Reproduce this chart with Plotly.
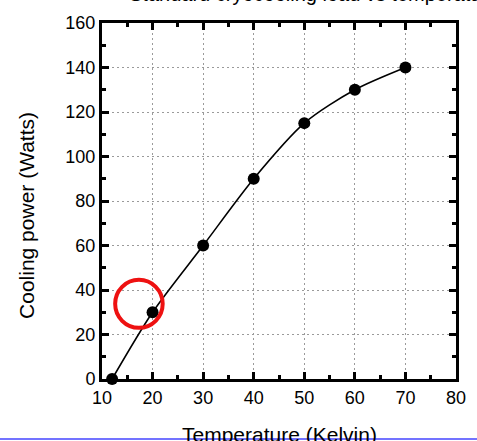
import plotly.graph_objects as go

# Cryocooler cooling power measured at several cold-stage temperatures
temperature_k = [12, 20, 30, 40, 50, 60, 70]
cooling_power_w = [0, 30, 60, 90, 115, 130, 140]

x_ticks = [10, 20, 30, 40, 50, 60, 70, 80]
y_ticks = [0, 20, 40, 60, 80, 100, 120, 140, 160]

FONT = "Arial, Liberation Sans, sans-serif"

fig = go.Figure()
fig.add_trace(go.Scatter(
    x=temperature_k,
    y=cooling_power_w,
    mode="lines+markers",
    line=dict(color="black", width=1.6, shape="spline", smoothing=0.8),
    marker=dict(color="black", size=12),
    cliponaxis=False,
    showlegend=False,
))

axis_common = dict(
    showline=True, linecolor="black", linewidth=3, mirror="allticks",
    ticks="inside", ticklen=7, tickwidth=3, tickcolor="black",
    showgrid=True, gridcolor="#9a9a9a", gridwidth=1, griddash="2px,3px",
    zeroline=False,
    tickfont=dict(family=FONT, size=18, color="black"),
    minor=dict(ticks="inside", ticklen=4, tickwidth=3, tickcolor="black", showgrid=False),
)

fig.update_xaxes(range=[10, 80], tickvals=x_ticks, ticktext=[str(v) for v in x_ticks],
                 minor_dtick=5, **axis_common)
fig.update_yaxes(range=[0, 160], tickvals=y_ticks, ticktext=[str(v) for v in y_ticks],
                 minor_dtick=10, **axis_common)

# Highlight ring around the 20 K operating point
ring_x, ring_y, ring_rx, ring_ry = 17.3, 33.8, 4.7, 10.8
fig.add_shape(type="circle", xref="x", yref="y",
              x0=ring_x - ring_rx, x1=ring_x + ring_rx,
              y0=ring_y - ring_ry, y1=ring_y + ring_ry,
              line=dict(color="#ee1111", width=4))

# Rule under the figure
fig.add_shape(type="line", xref="paper", yref="paper",
              x0=-0.4, x1=1.2, y0=-0.1685, y1=-0.1685,
              line=dict(color="#7373ff", width=2))

fig.add_annotation(text="Temperature (Kelvin)", xref="paper", yref="paper",
                   x=0.5, y=-0.1545, xanchor="center", yanchor="middle",
                   showarrow=False, font=dict(family=FONT, size=21, color="black"))
fig.add_annotation(text="Cooling power (Watts)", xref="paper", yref="paper",
                   x=-0.212, y=0.4607, xanchor="center", yanchor="middle",
                   textangle=-90, showarrow=False,
                   font=dict(family=FONT, size=21, color="black"))
fig.add_annotation(text="Standard cryocooling load vs temperature", xref="paper", yref="paper",
                   x=0.0706, y=1.046, xanchor="left", yanchor="bottom",
                   showarrow=False, font=dict(family=FONT, size=20, color="black"))

fig.update_layout(
    width=477, height=441,
    margin=dict(l=102, r=21, t=23, b=62),
    paper_bgcolor="white", plot_bgcolor="white",
    font=dict(family=FONT, color="black"),
)

fig.write_html("out.html")
